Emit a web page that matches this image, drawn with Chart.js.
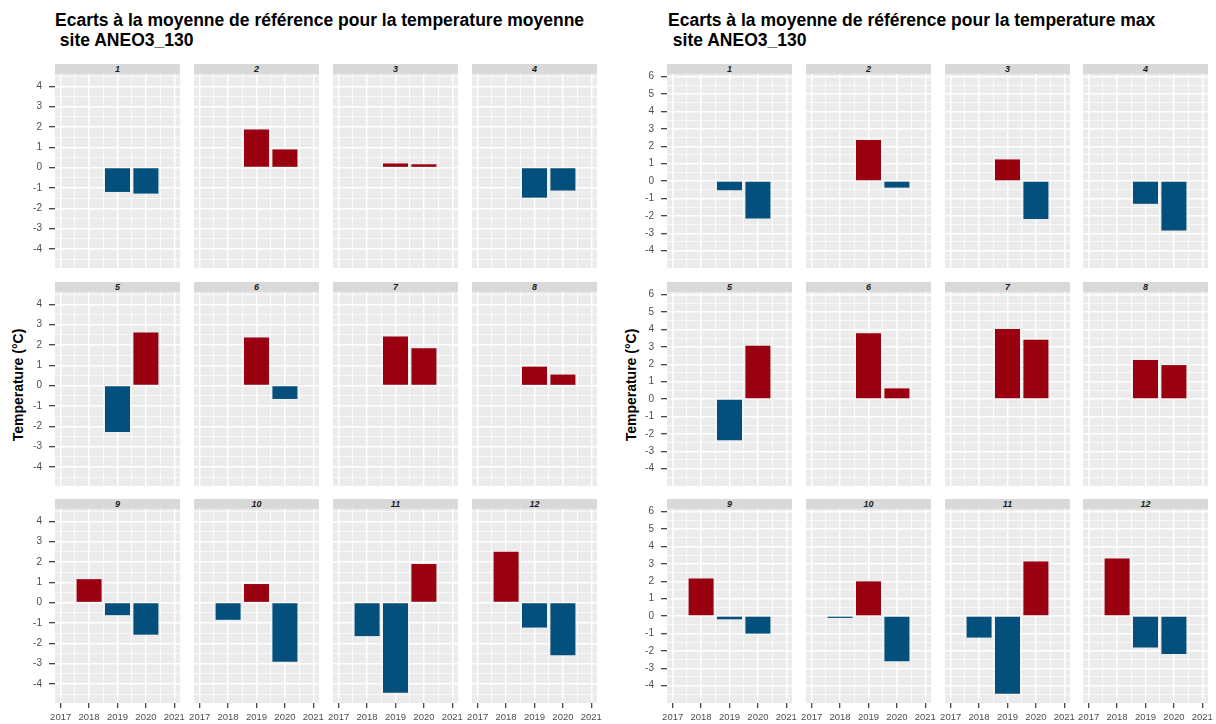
<!DOCTYPE html>
<html>
<head>
<meta charset="utf-8">
<script src="https://cdn.jsdelivr.net/npm/chart.js@4.4.0/dist/chart.umd.min.js"></script>
<style>
body{margin:0;background:#fff;width:1216px;height:724px;position:relative;overflow:hidden;font-family:"Liberation Sans",Arial,sans-serif}
.title{position:absolute;font-weight:bold;font-size:17.5px;line-height:20px;color:#000;white-space:pre}
.strip{position:absolute;height:10px;background:#d9d9d9;font-size:9px;font-weight:bold;font-style:italic;color:#1a1a1a;text-align:center;line-height:10px}
.ylab{position:absolute;width:200px;text-align:center;font-weight:bold;font-size:14px;line-height:16px;transform:rotate(-90deg);white-space:nowrap}
canvas{position:absolute}
</style>
</head>
<body>
<div class="title" style="left:55px;top:10px">Ecarts à la moyenne de référence pour la temperature moyenne
 site ANEO3_130</div>
<div class="title" style="left:668px;top:10px">Ecarts à la moyenne de référence pour la temperature max
 site ANEO3_130</div>
<div class="ylab" style="left:-82px;top:377px">Temperature (°C)</div>
<div class="ylab" style="left:531px;top:377px">Temperature (°C)</div>
<script>
// facet labels (months) and years
let months = ['1','2','3','4','5','6','7','8','9','10','11','12'];
let years = [2018, 2019, 2020];

// ecart temperature moyenne, one array per year (index = month)
let moy2018 = [null, null, null, null, null, null, null, null, 1.15, -0.85, -1.65, 2.5];
let moy2019 = [-1.2, 1.87, 0.2, -1.48, -2.28, 2.36, 2.41, 0.93, -0.62, 0.91, -4.44, -1.23];
let moy2020 = [-1.28, 0.89, 0.16, -1.13, 2.61, -0.66, 1.84, 0.54, -1.58, -2.91, 1.89, -2.59];

// ecart temperature max
let max2018 = [null, null, null, null, null, null, null, null, 2.16, -0.11, -1.24, 3.3];
let max2019 = [-0.53, 2.36, 1.24, -1.31, -2.37, 3.78, 4.02, 2.24, -0.19, 1.99, -4.47, -1.81];
let max2020 = [-2.15, -0.38, -2.19, -2.84, 3.06, 0.61, 3.4, 1.95, -1.01, -2.6, 3.13, -2.19];

// axis ticks
let xTicks = [2017, 2018, 2019, 2020, 2021];
let yTicksMoy = [-4, -3, -2, -1, 0, 1, 2, 3, 4];
let yTicksMax = [-4, -3, -2, -1, 0, 1, 2, 3, 4, 5, 6];

const red = '#990010';
const blue = '#04507c';

const panelBg = {
    id: 'panelBg',
    beforeDraw(chart) {
        const {ctx, chartArea: a} = chart;
        ctx.save();
        ctx.fillStyle = '#ebebeb';
        ctx.fillRect(a.left, a.top, a.right - a.left, a.bottom - a.top);
        ctx.restore();
    }
};

function isMajor(v) { return Math.abs(v - Math.round(v)) < 1e-6; }

// majors + halfway minors inside [lo, hi]
function withMinors(majors, lo, hi) {
    let out = [];
    for (let i = 0; i < majors.length; i++) {
        out.push(majors[i]);
        out.push(majors[i] + 0.5);
        if (i == 0) out.push(majors[i] - 0.5);
    }
    return out.filter(v => v > lo && v < hi).sort((a, b) => a - b);
}

function noPad(s) {
    s.paddingLeft = 0; s.paddingRight = 0;
    s.paddingTop = 0; s.paddingBottom = 0;
}

function makePanel(opts) {
    const {left, top, padL, padB, vals, yMin, yMax, yTicks} = opts;
    const extra = padB > 0 ? 14 : 0;   // room for the 2017 / 2021 labels
    const extraT = padL > 0 ? 8 : 0;   // room for the top y label
    const w = 125 + padL + 2 * extra, h = 194 + padB + extraT;
    const c = document.createElement('canvas');
    c.width = w; c.height = h;
    c.style.left = (left - padL - extra) + 'px';
    c.style.top = (top - extraT) + 'px';
    document.body.appendChild(c);

    let pts = [];
    years.forEach((yr, i) => { if (vals[i] != null) pts.push({x: yr, y: vals[i]}); });

    new Chart(c, {
        type: 'bar',
        data: {
            datasets: [{
                data: pts,
                backgroundColor: ctx => ctx.parsed.y >= 0 ? red : blue,
                borderWidth: 0,
                barPercentage: 0.88,
                categoryPercentage: 2.0   // tick ruler is half a year
            }]
        },
        options: {
            responsive: false,
            animation: false,
            events: [],
            layout: {padding: {left: extra, right: extra, top: extraT, bottom: 0}},
            plugins: {legend: {display: false}, tooltip: {enabled: false}},
            scales: {
                x: {
                    type: 'linear',
                    min: 2016.8, max: 2021.2,
                    offset: false,
                    afterBuildTicks: s => { s.ticks = withMinors(xTicks, 2016.8, 2021.2).map(v => ({value: v})); },
                    afterFit: s => { s.height = padB; noPad(s); },
                    border: {display: false},
                    grid: {
                        offset: false,
                        color: '#ffffff',
                        lineWidth: ctx => isMajor(ctx.tick.value) ? 1.4 : 0.7,
                        drawTicks: padB > 0,
                        tickLength: 5,
                        tickWidth: 1.2,
                        tickColor: ctx => isMajor(ctx.tick.value) ? '#333333' : 'rgba(0,0,0,0)'
                    },
                    ticks: {
                        display: padB > 0,
                        autoSkip: false,
                        maxRotation: 0,
                        padding: 4,
                        color: '#4d4d4d',
                        font: {size: 9.5, family: '"Liberation Sans", Arial, sans-serif'},
                        callback: v => isMajor(v) ? String(Math.round(v)) : ''
                    }
                },
                y: {
                    min: yMin, max: yMax,
                    afterBuildTicks: s => { s.ticks = withMinors(yTicks, yMin, yMax).map(v => ({value: v})); },
                    afterFit: s => { s.width = padL; noPad(s); },
                    border: {display: false},
                    grid: {
                        color: '#ffffff',
                        lineWidth: ctx => isMajor(ctx.tick.value) ? 1.4 : 0.7,
                        drawTicks: padL > 0,
                        tickLength: 6,
                        tickWidth: 1.2,
                        tickColor: ctx => isMajor(ctx.tick.value) ? '#333333' : 'rgba(0,0,0,0)'
                    },
                    ticks: {
                        display: padL > 0,
                        autoSkip: false,
                        padding: 7,
                        color: '#4d4d4d',
                        font: {size: 10, family: '"Liberation Sans", Arial, sans-serif'},
                        callback: v => isMajor(v) ? String(Math.round(v)) : ''
                    }
                }
            }
        },
        plugins: [panelBg]
    });
}

function makeStrip(left, top, text) {
    const d = document.createElement('div');
    d.className = 'strip';
    d.style.left = left + 'px';
    d.style.top = top + 'px';
    d.style.width = '125px';
    d.textContent = text;
    document.body.appendChild(d);
}

const stripTops = [64, 282, 499];
const leftCols = [55, 194, 333, 472];
const rightCols = [667, 806, 945, 1083];

function facetGrid(cols, series, yMin, yMax, yTicks) {
    months.forEach((m, i) => {
        const row = Math.floor(i / 4), col = i % 4;
        makeStrip(cols[col], stripTops[row], m);
        makePanel({
            left: cols[col],
            top: stripTops[row] + 10,
            padL: col == 0 ? 30 : 0,
            padB: row == 2 ? 22 : 0,
            vals: series.map(s => s[i]),
            yMin, yMax, yTicks
        });
    });
}

facetGrid(leftCols, [moy2018, moy2019, moy2020], -4.94, 4.6, yTicksMoy);
facetGrid(rightCols, [max2018, max2019, max2020], -5.0, 6.15, yTicksMax);
</script>
</body>
</html>
